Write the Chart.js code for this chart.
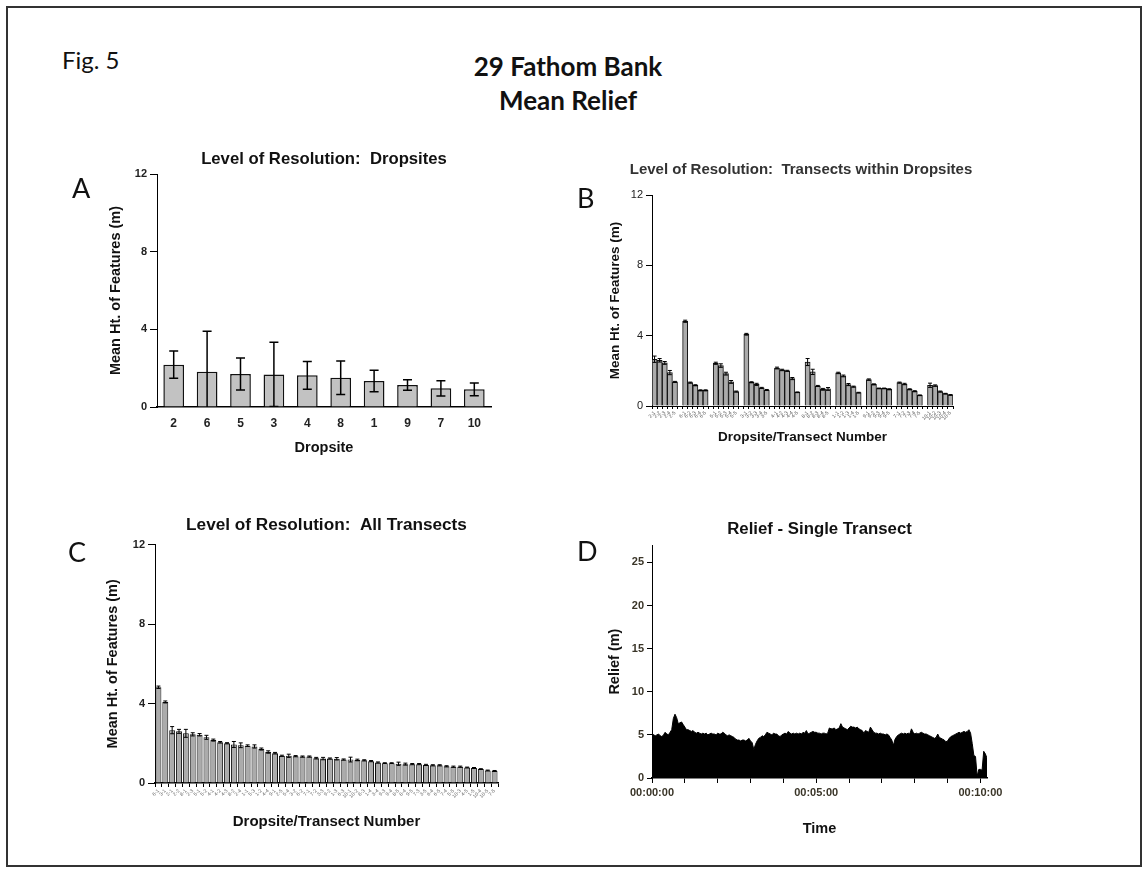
<!DOCTYPE html>
<html lang="en">
<head>
<meta charset="UTF-8" />
<title>29 Fathom Bank - Mean Relief</title>
<script src="https://cdn.jsdelivr.net/npm/chart.js"></script>
<style>
  body { margin: 0; background: #fff; }
  #page { position: relative; width: 1144px; height: 869px; overflow: hidden; background: #fff; }
  .frame { position: absolute; left: 6px; top: 6px; width: 1136px; height: 861px; border: 2px solid #333; box-sizing: border-box; }
  canvas { position: absolute; }
  .txt { position: absolute; white-space: nowrap; font-family: Lato, "Open Sans", sans-serif; color: #111; line-height: 1; }
  .fig { left: 62px; top: 48px; font-size: 24px; }
  .head { left: 418px; width: 300px; text-align: center; font-weight: bold; font-size: 26px; }
  .letter { font-size: 27px; }
  .subhead { left: 601px; width: 400px; top: 160px; text-align: center; font: bold 15px "Liberation Sans", Arial, sans-serif; color: #333; }
</style>
</head>
<body>
<div id="page">
  <div class="frame"></div>

  <canvas id="chartA" width="450" height="325" style="left:60px; top:140px;"></canvas>
  <canvas id="chartB" width="420" height="300" style="left:570px; top:150px;"></canvas>
  <canvas id="chartC" width="450" height="330" style="left:60px; top:510px;"></canvas>
  <canvas id="chartD" width="450" height="330" style="left:570px; top:515px;"></canvas>

  <div class="txt fig">Fig. 5</div>
  <div class="txt head" style="top:53px;">29 Fathom Bank</div>
  <div class="txt head" style="top:87px;">Mean Relief</div>
  <div class="txt subhead">Level of Resolution:&nbsp; Transects within Dropsites</div>
  <div class="txt letter" style="left:72px; top:174px;">A</div>
  <div class="txt letter" style="left:577px; top:184px;">B</div>
  <div class="txt letter" style="left:68px; top:538px;">C</div>
  <div class="txt letter" style="left:577px; top:537px;">D</div>
</div>

<script>
  // Panel A: mean feature height per dropsite (sorted), with SD
  const dropsites = ["2", "6", "5", "3", "4", "8", "1", "9", "7", "10"];
  const dropsiteMeans = [2.18, 1.82, 1.70, 1.68, 1.63, 1.51, 1.34, 1.13, 0.96, 0.91];
  const dropsiteErr = [0.70, 2.08, 0.83, 1.66, 0.72, 0.86, 0.55, 0.27, 0.39, 0.33];

  // Panel B: five transects within each dropsite, in dropsite order
  const transectMeans = [
    [2.66, 2.60, 2.45, 1.90, 1.37],
    [4.82, 1.33, 1.18, 0.89, 0.89],
    [2.43, 2.30, 1.84, 1.37, 0.82],
    [4.08, 1.35, 1.23, 1.03, 0.91],
    [2.16, 2.05, 2.00, 1.56, 0.78],
    [2.50, 1.94, 1.14, 0.95, 0.97],
    [1.88, 1.71, 1.22, 1.10, 0.76],
    [1.50, 1.23, 1.00, 1.00, 0.95],
    [1.33, 1.25, 0.95, 0.84, 0.61],
    [1.18, 1.16, 0.82, 0.70, 0.63]
  ];
  const transectErr = [
    [0.18, 0.10, 0.08, 0.12, 0.03],
    [0.06, 0.03, 0.03, 0.03, 0.03],
    [0.06, 0.10, 0.08, 0.08, 0.03],
    [0.05, 0.03, 0.06, 0.03, 0.03],
    [0.05, 0.04, 0.03, 0.06, 0.02],
    [0.20, 0.15, 0.03, 0.05, 0.08],
    [0.04, 0.05, 0.06, 0.03, 0.02],
    [0.04, 0.03, 0.02, 0.02, 0.03],
    [0.03, 0.04, 0.03, 0.03, 0.02],
    [0.12, 0.04, 0.03, 0.02, 0.02]
  ];

  // Panel C: all transects ranked by mean height
  const rankedLabels = ["6-1", "3-1", "2-1", "2-2", "8-1", "2-3", "5-1", "5-2", "4-1", "4-2",
    "4-3", "8-2", "2-4", "1-1", "5-3", "1-2", "4-4", "9-1", "2-5", "5-4",
    "3-2", "6-2", "7-1", "7-2", "3-3", "9-2", "1-3", "6-3", "10-1", "10-2",
    "8-3", "1-4", "3-4", "9-3", "9-4", "8-5", "8-4", "9-5", "7-3", "3-5",
    "6-4", "6-5", "7-4", "5-5", "10-3", "4-5", "1-5", "10-4", "10-5", "7-5"];
  const rankedMeans = [4.82, 4.08, 2.66, 2.60, 2.50, 2.45, 2.43, 2.30, 2.16, 2.05,
    2.00, 1.94, 1.90, 1.88, 1.84, 1.71, 1.56, 1.50, 1.37, 1.37,
    1.35, 1.33, 1.33, 1.25, 1.23, 1.23, 1.22, 1.18, 1.18, 1.16,
    1.14, 1.10, 1.03, 1.00, 1.00, 0.97, 0.95, 0.95, 0.95, 0.91,
    0.89, 0.89, 0.84, 0.82, 0.82, 0.78, 0.76, 0.70, 0.63, 0.61];
  const rankedErr = [0.06, 0.05, 0.18, 0.10, 0.20, 0.08, 0.06, 0.10, 0.05, 0.04,
    0.03, 0.15, 0.12, 0.04, 0.08, 0.05, 0.06, 0.04, 0.03, 0.08,
    0.03, 0.03, 0.03, 0.04, 0.06, 0.03, 0.06, 0.03, 0.12, 0.04,
    0.03, 0.03, 0.03, 0.02, 0.02, 0.08, 0.05, 0.03, 0.03, 0.03,
    0.03, 0.03, 0.03, 0.03, 0.03, 0.02, 0.02, 0.02, 0.02, 0.02];

  // Panel D: relief along one transect, one reading every 3 s
  const reliefStepSec = 3;
  const reliefValues = [
    5.2, 5.0, 4.9, 5.0, 5.1, 4.9, 4.8, 5.0, 5.3, 5.1, 5.0, 5.3,
    5.6, 6.9, 7.4, 7.0,
    6.3, 6.4, 6.5, 6.2,
    5.9, 5.6, 5.6, 5.5, 5.4, 5.5,
    5.3, 5.2, 5.3, 5.2, 5.1, 5.2, 5.1,
    5.2, 5.0, 5.1, 5.2, 5.1, 5.1, 5.0, 5.2, 5.1, 5.1,
    5.3, 5.2, 5.0,
    4.9, 5.0, 4.9, 4.8, 4.7,
    4.5, 4.4, 4.4, 4.3, 4.4, 4.4, 4.3, 4.4, 4.6,
    4.3, 4.1, 3.3, 3.9, 4.3,
    4.6, 4.7, 4.9, 4.8, 5.0, 5.3, 5.2,
    5.1, 5.0, 5.2, 5.1, 5.1, 4.9, 4.8, 5.0, 5.1, 5.2, 5.1,
    5.4, 5.2, 5.1, 5.2, 5.1, 5.2, 5.1, 5.2, 5.1, 5.3, 5.2, 5.5, 5.1, 5.2, 5.3, 5.4, 5.3, 5.3,
    5.2, 5.2, 5.1, 5.2, 5.2, 5.1, 5.2, 5.8,
    5.7, 5.7, 5.8, 5.6, 5.7, 5.8, 6.3,
    5.9, 5.8, 5.7, 5.6, 5.8, 6.0, 5.9, 5.9, 5.8, 5.9, 5.7,
    5.6, 5.5, 5.2, 5.5, 5.4, 5.3, 5.9,
    5.6, 5.3, 5.2, 5.2, 5.1, 5.2, 5.1, 5.1, 5.0, 5.1, 5.0, 4.7,
    4.4, 3.8, 4.5,
    4.8, 5.0, 5.1, 5.2, 5.1, 5.2, 5.1, 5.2, 5.1,
    5.7, 5.3,
    5.1, 5.2, 5.1, 5.2, 5.3, 5.2, 5.1, 5.1, 5.0, 4.9, 4.8,
    4.7, 4.6, 4.7, 5.1, 4.7, 4.6, 4.5, 4.4, 4.2, 4.3,
    4.6, 4.8, 4.9, 5.0, 5.1, 5.2, 5.3, 5.2, 5.3, 5.4, 5.3, 5.4, 5.6, 5.2,
    4.0, 2.6, 2.5, 0.2, 1.0, 1.0, 0.9, 3.1, 2.8, 2.3
  ];
  // minute marks on the time axis (s) and relief ticks (m)
  const timeTicks = [0, 60, 120, 180, 240, 300, 360, 420, 480, 540, 600];
  const reliefTicks = [0, 5, 10, 15, 20, 25];

  Chart.defaults.font.family = '"Liberation Sans", Arial, sans-serif';
  Chart.defaults.color = "#222";
  Chart.defaults.animation = false;
  Chart.defaults.plugins.legend.display = false;
  Chart.defaults.plugins.tooltip.enabled = false;

  // draws +/- error whiskers on top of bar datasets
  const errorBars = {
    id: "errorBars",
    afterDatasetsDraw(chart, args, opts) {
      if (!opts.values) return;
      const ctx = chart.ctx;
      const area = chart.chartArea;
      const yScale = chart.scales.y;
      const values = chart.data.datasets[0].data;
      const meta = chart.getDatasetMeta(0);
      ctx.save();
      ctx.beginPath();
      ctx.rect(area.left, area.top - 2, area.right - area.left, area.bottom - area.top + 2);
      ctx.clip();
      ctx.strokeStyle = "#000";
      ctx.lineWidth = opts.lineWidth || 1;
      meta.data.forEach((bar, i) => {
        const v = values[i];
        const e = opts.values[i];
        if (v == null || e == null) return;
        const yTop = yScale.getPixelForValue(v + e);
        const yBot = yScale.getPixelForValue(v - e);
        const half = opts.cap / 2;
        ctx.beginPath();
        ctx.moveTo(bar.x, yTop);
        ctx.lineTo(bar.x, yBot);
        ctx.moveTo(bar.x - half, yTop);
        ctx.lineTo(bar.x + half, yTop);
        ctx.moveTo(bar.x - half, yBot);
        ctx.lineTo(bar.x + half, yBot);
        ctx.stroke();
      });
      ctx.restore();
    }
  };

  function yAxis(o) {
    return {
      min: 0,
      max: o.max,
      ticks: {
        stepSize: o.step,
        padding: 3,
        color: "#222",
        font: { size: 11, weight: o.tickWeight || "bold" }
      },
      grid: { drawOnChartArea: false, drawTicks: true, tickLength: o.tickLength || 6, color: "#000" },
      border: { display: true, color: "#000", width: 1 },
      title: {
        display: true,
        text: o.title,
        color: "#111",
        font: { size: o.titleSize, weight: "bold" },
        padding: { top: o.titlePad, bottom: 0 }
      },
      afterFit(scale) { scale.width = o.width; }
    };
  }

  function chartTitle(text, size, weight, top, bottom) {
    return {
      display: true,
      text: text,
      color: "#111",
      fullSize: false,
      font: { size: size, weight: weight },
      padding: { top: top, bottom: bottom }
    };
  }

  // ---- A: dropsites
  new Chart(document.getElementById("chartA"), {
    type: "bar",
    data: {
      labels: dropsites,
      datasets: [{
        data: dropsiteMeans,
        backgroundColor: "#c2c2c2",
        borderColor: "#111",
        borderWidth: 1.5,
        barPercentage: 0.62,
        categoryPercentage: 1
      }]
    },
    options: {
      responsive: false,
      devicePixelRatio: 1,
      layout: { padding: { left: 0, right: 19, top: 0, bottom: 0 } },
      scales: {
        x: {
          ticks: { padding: 9, color: "#222", font: { size: 12, weight: "bold" } },
          grid: { display: true, drawOnChartArea: false, drawTicks: false },
          border: { display: true, color: "#000", width: 1.5 },
          title: {
            display: true, text: "Dropsite", color: "#111",
            font: { size: 14.5, weight: "bold" }, padding: { top: 0, bottom: 8 }
          },
          afterFit(scale) { scale.height = 58; }
        },
        y: yAxis({ max: 12, step: 4, title: "Mean Ht. of Features (m)", titleSize: 14.5, titlePad: 47, width: 97, tickLength: 7 })
      },
      plugins: {
        title: chartTitle("Level of Resolution:  Dropsites", 16.7, "bold", 9.5, 4.5),
        errorBars: { values: dropsiteErr, cap: 9, lineWidth: 1.5 }
      }
    },
    plugins: [errorBars]
  });

  // ---- B: transects grouped by dropsite, an empty slot between groups
  // (its heading is wider than the plot, so it sits in the page as text above the canvas)
  const groupedLabels = [];
  const groupedMeans = [];
  const groupedErr = [];
  dropsites.forEach((site, g) => {
    if (g > 0) {
      groupedLabels.push("");
      groupedMeans.push(null);
      groupedErr.push(null);
    }
    transectMeans[g].forEach((m, t) => {
      groupedLabels.push(site + "-" + (t + 1));
      groupedMeans.push(m);
      groupedErr.push(transectErr[g][t]);
    });
  });

  new Chart(document.getElementById("chartB"), {
    type: "bar",
    data: {
      labels: groupedLabels,
      datasets: [{
        data: groupedMeans,
        backgroundColor: "#ababab",
        borderColor: "#111",
        borderWidth: 1,
        barPercentage: 1,
        categoryPercentage: 1
      }]
    },
    options: {
      responsive: false,
      devicePixelRatio: 1,
      layout: { padding: { left: 0, right: 37, top: 45, bottom: 0 } },
      scales: {
        x: {
          ticks: {
            autoSkip: false, minRotation: 45, maxRotation: 45, padding: 1,
            color: "#555", font: { size: 5 }
          },
          grid: { display: true, drawOnChartArea: false, drawTicks: true, tickLength: 3, color: "#000" },
          border: { display: true, color: "#000", width: 1 },
          title: {
            display: true, text: "Dropsite/Transect Number", color: "#111",
            font: { size: 13.5, weight: "bold" }, padding: { top: 0, bottom: 5 }
          },
          afterFit(scale) { scale.height = 44; }
        },
        y: yAxis({ max: 12, step: 4, title: "Mean Ht. of Features (m)", titleSize: 13.5, titlePad: 37, width: 82, tickWeight: "normal" })
      },
      plugins: {
        errorBars: { values: groupedErr, cap: 4, lineWidth: 1 }
      }
    },
    plugins: [errorBars]
  });

  // ---- C: all transects ranked
  new Chart(document.getElementById("chartC"), {
    type: "bar",
    data: {
      labels: rankedLabels,
      datasets: [{
        data: rankedMeans,
        backgroundColor: "#ababab",
        borderColor: "#111",
        borderWidth: 1,
        barPercentage: 0.86,
        categoryPercentage: 1
      }]
    },
    options: {
      responsive: false,
      devicePixelRatio: 1,
      layout: { padding: { left: 0, right: 12, top: 0, bottom: 0 } },
      scales: {
        x: {
          ticks: {
            autoSkip: false, minRotation: 45, maxRotation: 45, padding: 1,
            color: "#666", font: { size: 5 }
          },
          grid: { display: true, drawOnChartArea: false, drawTicks: true, tickLength: 4, color: "#000", offset: true },
          border: { display: true, color: "#000", width: 1.5 },
          title: {
            display: true, text: "Dropsite/Transect Number", color: "#111",
            font: { size: 15, weight: "bold" }, padding: { top: 0, bottom: 9 }
          },
          afterFit(scale) { scale.height = 57; }
        },
        y: yAxis({ max: 12, step: 4, title: "Mean Ht. of Features (m)", titleSize: 14.5, titlePad: 44, width: 95, tickLength: 7 })
      },
      plugins: {
        title: chartTitle("Level of Resolution:  All Transects", 17.2, "bold", 4.5, 9.5),
        errorBars: { values: rankedErr, cap: 4, lineWidth: 1 }
      }
    },
    plugins: [errorBars]
  });

  // ---- D: relief trace
  const reliefPoints = reliefValues.map((v, i) => ({ x: i * reliefStepSec, y: v }));
  const lastSec = (reliefValues.length - 1) * reliefStepSec;

  function clock(sec) {
    const mm = String(Math.floor(sec / 60)).padStart(2, "0");
    const ss = String(sec % 60).padStart(2, "0");
    return "00:" + mm + ":" + ss;
  }

  new Chart(document.getElementById("chartD"), {
    type: "line",
    data: {
      datasets: [{
        data: reliefPoints,
        borderColor: "#000",
        backgroundColor: "#000",
        borderWidth: 1,
        pointRadius: 0,
        tension: 0,
        fill: "origin"
      }]
    },
    options: {
      responsive: false,
      devicePixelRatio: 1,
      layout: { padding: { left: 0, right: 33, top: 0, bottom: 0 } },
      scales: {
        x: {
          type: "linear",
          min: 0,
          max: lastSec,
          afterBuildTicks(scale) { scale.ticks = timeTicks.map(v => ({ value: v })); },
          ticks: {
            padding: 3, maxRotation: 0, autoSkip: false,
            color: "#3a3528", font: { size: 11, weight: "bold" },
            callback: v => (v % 300 === 0 ? clock(v) : "")
          },
          grid: { display: true, drawOnChartArea: false, drawTicks: true, tickLength: 5, color: "#000" },
          border: { display: true, color: "#000", width: 1.5 },
          title: {
            display: true, text: "Time", color: "#111",
            font: { size: 14.5, weight: "bold" }, padding: { top: 0, bottom: 7 }
          },
          afterFit(scale) { scale.height = 67; }
        },
        y: {
          min: 0,
          max: 27,
          afterBuildTicks(scale) { scale.ticks = reliefTicks.map(v => ({ value: v })); },
          ticks: { padding: 3, color: "#3a3528", font: { size: 11, weight: "bold" } },
          grid: { drawOnChartArea: false, drawTicks: true, tickLength: 5, color: "#000" },
          border: { display: true, color: "#000", width: 1 },
          title: {
            display: true, text: "Relief (m)", color: "#111",
            font: { size: 14.5, weight: "bold" }, padding: { top: 36, bottom: 0 }
          },
          afterFit(scale) { scale.width = 82; }
        }
      },
      plugins: {
        title: chartTitle("Relief - Single Transect", 16.8, "bold", 4.5, 5.5)
      }
    }
  });
</script>
</body>
</html>
